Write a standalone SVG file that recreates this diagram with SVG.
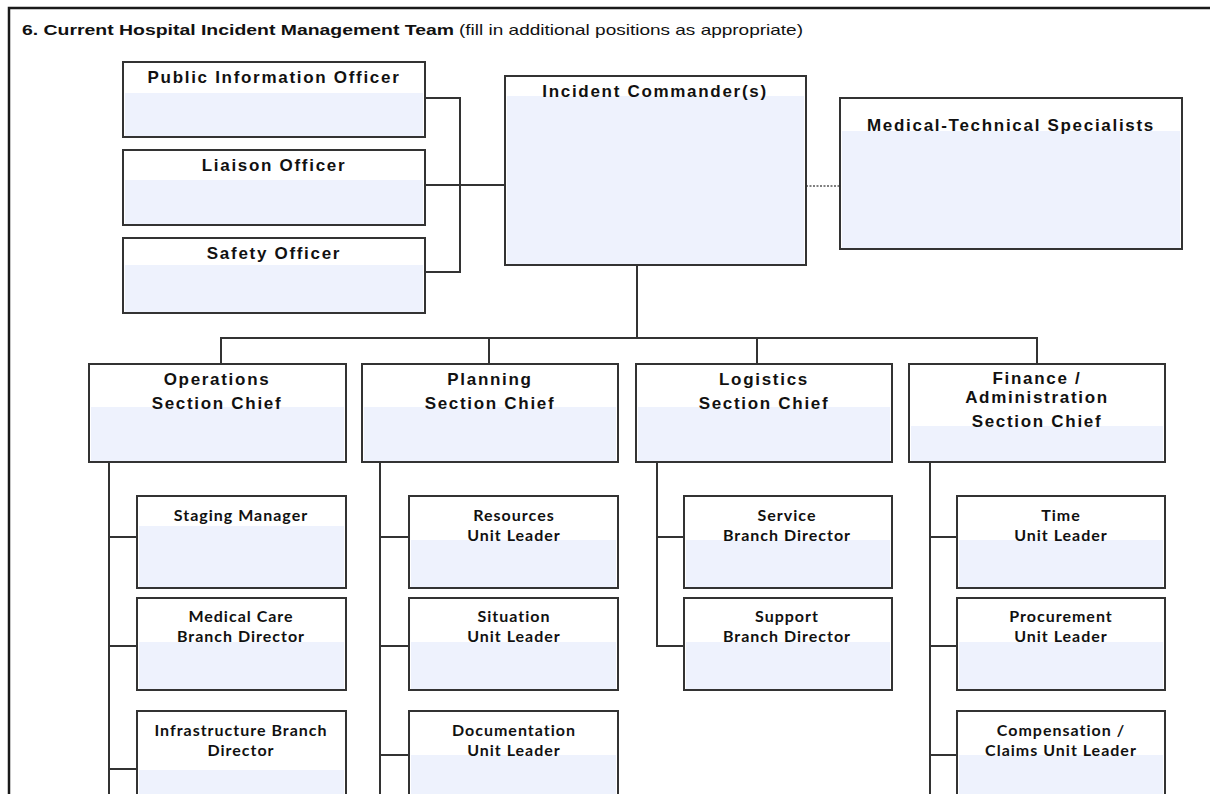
<svg xmlns="http://www.w3.org/2000/svg" width="1210" height="794" viewBox="0 0 1210 794">
  <style>
    .frame { fill: none; stroke: #1a1a1a; stroke-width: 2.5; }
    .box { fill: #ffffff; stroke: #333333; stroke-width: 2; }
    .band { fill: #eef2fd; }
    .wire { fill: none; stroke: #333333; stroke-width: 2; }
    .dash { fill: none; stroke: #555555; stroke-width: 1.5; stroke-dasharray: 2 1.5; }
    .h1 { font-family: "Liberation Sans", Arial, sans-serif; font-weight: bold; font-size: 17px; fill: #111111; text-anchor: middle; letter-spacing: 1.7px; }
    .h2 { font-family: Lato, "Open Sans", sans-serif; font-weight: bold; font-size: 16px; fill: #111111; text-anchor: middle; letter-spacing: 1px; }
    .title { font-family: "Liberation Sans", Arial, sans-serif; font-size: 15px; fill: #111111; }
  </style>

  <rect x="0" y="0" width="1210" height="794" fill="#ffffff"/>
  <path class="frame" d="M9,794 V8 H1210"/>

  <text class="title" x="22" y="35"><tspan font-weight="bold" textLength="432" lengthAdjust="spacingAndGlyphs">6. Current Hospital Incident Management Team</tspan><tspan dx="5" textLength="344" lengthAdjust="spacingAndGlyphs">(fill in additional positions as appropriate)</tspan></text>

  <!-- connectors -->
  <g id="connectors">
    <path class="wire" d="M425,98 H460 V272 H425"/>
    <path class="wire" d="M425,185 H505"/>
    <path class="dash" d="M806,186 H840"/>
    <path class="wire" d="M637,265 V338"/>
    <path class="wire" d="M221,364 V338 H1037 V364"/>
    <path class="wire" d="M489,338 V364"/>
    <path class="wire" d="M757,338 V364"/>
    <!-- operations -->
    <path class="wire" d="M109,462 V794"/>
    <path class="wire" d="M109,537 H137 M109,646 H137 M109,769 H137"/>
    <!-- planning -->
    <path class="wire" d="M380,462 V794"/>
    <path class="wire" d="M380,537 H409 M380,646 H409 M380,755 H409"/>
    <!-- logistics -->
    <path class="wire" d="M657,462 V646 H684"/>
    <path class="wire" d="M657,537 H684"/>
    <!-- finance -->
    <path class="wire" d="M930,462 V794"/>
    <path class="wire" d="M930,537 H957 M930,646 H957 M930,755 H957"/>
  </g>

  <!-- command staff -->
  <g id="pio">
    <rect class="box" x="123" y="62" width="302" height="75"/>
    <rect class="band" x="125" y="93" width="298" height="43"/>
    <text class="h1" x="274" y="83">Public Information Officer</text>
  </g>
  <g id="liaison">
    <rect class="box" x="123" y="150" width="302" height="75"/>
    <rect class="band" x="125" y="180" width="298" height="44"/>
    <text class="h1" x="274" y="171">Liaison Officer</text>
  </g>
  <g id="safety">
    <rect class="box" x="123" y="238" width="302" height="75"/>
    <rect class="band" x="125" y="265" width="298" height="47"/>
    <text class="h1" x="274" y="259">Safety Officer</text>
  </g>
  <g id="commander">
    <rect class="box" x="505" y="76" width="301" height="189"/>
    <rect class="band" x="507" y="96" width="297" height="168"/>
    <text class="h1" x="655" y="97">Incident Commander(s)</text>
  </g>
  <g id="med-tech">
    <rect class="box" x="840" y="98" width="342" height="151"/>
    <rect class="band" x="842" y="131" width="338" height="117"/>
    <text class="h1" x="1011" y="131">Medical-Technical Specialists</text>
  </g>

  <!-- section chiefs -->
  <g id="operations">
    <rect class="box" x="89" y="364" width="257" height="98"/>
    <rect class="band" x="91" y="407" width="253" height="54"/>
    <text class="h1" x="217" y="385">Operations</text>
    <text class="h1" x="217" y="409">Section Chief</text>
  </g>
  <g id="planning">
    <rect class="box" x="362" y="364" width="256" height="98"/>
    <rect class="band" x="364" y="407" width="252" height="54"/>
    <text class="h1" x="490" y="385">Planning</text>
    <text class="h1" x="490" y="409">Section Chief</text>
  </g>
  <g id="logistics">
    <rect class="box" x="636" y="364" width="256" height="98"/>
    <rect class="band" x="638" y="407" width="252" height="54"/>
    <text class="h1" x="764" y="385">Logistics</text>
    <text class="h1" x="764" y="409">Section Chief</text>
  </g>
  <g id="finance">
    <rect class="box" x="909" y="364" width="256" height="98"/>
    <rect class="band" x="911" y="426" width="252" height="35"/>
    <text class="h1" x="1037" y="384" font-size="16">Finance /</text>
    <text class="h1" x="1037" y="403">Administration</text>
    <text class="h1" x="1037" y="427">Section Chief</text>
  </g>

  <!-- operations units -->
  <g id="staging">
    <rect class="box" x="137" y="496" width="209" height="92"/>
    <rect class="band" x="139" y="526" width="205" height="61"/>
    <text class="h2" x="241" y="521">Staging Manager</text>
  </g>
  <g id="medical-care">
    <rect class="box" x="137" y="598" width="209" height="92"/>
    <rect class="band" x="139" y="642" width="205" height="47"/>
    <text class="h2" x="241" y="622">Medical Care</text>
    <text class="h2" x="241" y="642">Branch Director</text>
  </g>
  <g id="infrastructure">
    <rect class="box" x="137" y="711" width="209" height="92"/>
    <rect class="band" x="139" y="770" width="205" height="32"/>
    <text class="h2" x="241" y="736">Infrastructure Branch</text>
    <text class="h2" x="241" y="756">Director</text>
  </g>

  <!-- planning units -->
  <g id="resources">
    <rect class="box" x="409" y="496" width="209" height="92"/>
    <rect class="band" x="411" y="540" width="205" height="47"/>
    <text class="h2" x="514" y="521">Resources</text>
    <text class="h2" x="514" y="541">Unit Leader</text>
  </g>
  <g id="situation">
    <rect class="box" x="409" y="598" width="209" height="92"/>
    <rect class="band" x="411" y="642" width="205" height="47"/>
    <text class="h2" x="514" y="622">Situation</text>
    <text class="h2" x="514" y="642">Unit Leader</text>
  </g>
  <g id="documentation">
    <rect class="box" x="409" y="711" width="209" height="92"/>
    <rect class="band" x="411" y="755" width="205" height="47"/>
    <text class="h2" x="514" y="736">Documentation</text>
    <text class="h2" x="514" y="756">Unit Leader</text>
  </g>

  <!-- logistics units -->
  <g id="service">
    <rect class="box" x="684" y="496" width="208" height="92"/>
    <rect class="band" x="686" y="540" width="204" height="47"/>
    <text class="h2" x="787" y="521">Service</text>
    <text class="h2" x="787" y="541">Branch Director</text>
  </g>
  <g id="support">
    <rect class="box" x="684" y="598" width="208" height="92"/>
    <rect class="band" x="686" y="642" width="204" height="47"/>
    <text class="h2" x="787" y="622">Support</text>
    <text class="h2" x="787" y="642">Branch Director</text>
  </g>

  <!-- finance units -->
  <g id="time">
    <rect class="box" x="957" y="496" width="208" height="92"/>
    <rect class="band" x="959" y="540" width="204" height="47"/>
    <text class="h2" x="1061" y="521">Time</text>
    <text class="h2" x="1061" y="541">Unit Leader</text>
  </g>
  <g id="procurement">
    <rect class="box" x="957" y="598" width="208" height="92"/>
    <rect class="band" x="959" y="642" width="204" height="47"/>
    <text class="h2" x="1061" y="622">Procurement</text>
    <text class="h2" x="1061" y="642">Unit Leader</text>
  </g>
  <g id="compensation">
    <rect class="box" x="957" y="711" width="208" height="92"/>
    <rect class="band" x="959" y="755" width="204" height="47"/>
    <text class="h2" x="1061" y="736">Compensation /</text>
    <text class="h2" x="1061" y="756">Claims Unit Leader</text>
  </g>
</svg>
